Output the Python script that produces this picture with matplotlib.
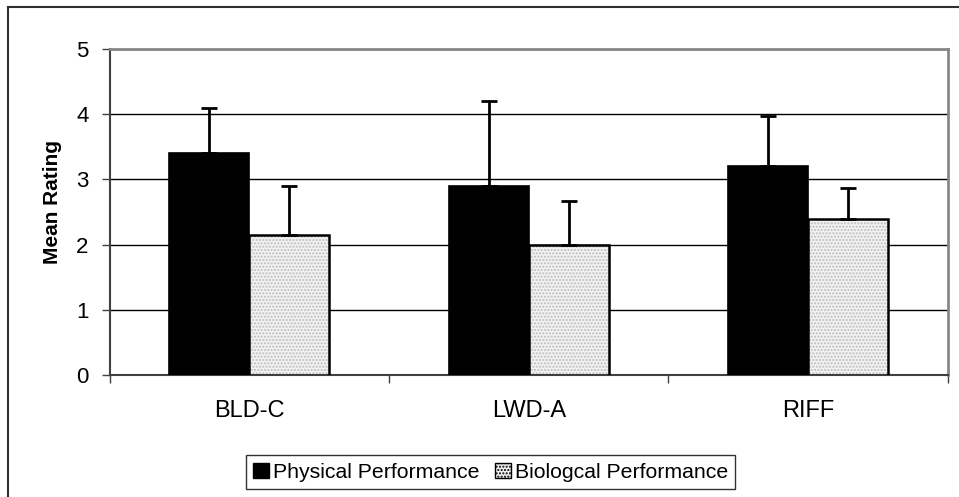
import matplotlib.pyplot as plt
from matplotlib.lines import Line2D
from matplotlib.patches import Patch
import numpy as np

plt.rcParams['font.family'] = ['Liberation Sans', 'DejaVu Sans']

sites = ['BLD-C', 'LWD-A', 'RIFF']
physical = [3.4, 2.9, 3.2]
physical_err = [0.7, 1.3, 0.78]
biological = [2.15, 2.0, 2.4]
biological_err = [0.75, 0.67, 0.47]
series_names = ['Physical Performance', 'Biologcal Performance']

fig = plt.figure(figsize=(9.59, 4.97), dpi=100)
ax = fig.add_axes([0.1142, 0.246, 0.8743, 0.6548])

x = np.arange(len(sites))
w = 0.2857

# physical bars
ax.bar(x - w/2, physical, w, color='black', edgecolor='black', linewidth=1.2, zorder=3)
ax.errorbar(x - w/2, physical, yerr=[np.zeros(3), physical_err], fmt='none',
            ecolor='black', elinewidth=2, capsize=5.5, capthick=2, zorder=4)

# biological bars: dotted fill then black outline
ax.bar(x + w/2, biological, w, color='#f2f2f2', edgecolor='#bcbcbc', hatch='.....',
       linewidth=0, zorder=3)
ax.bar(x + w/2, biological, w, fill=False, edgecolor='black', linewidth=1.8, zorder=3)
ax.errorbar(x + w/2, biological, yerr=[np.zeros(3), biological_err], fmt='none',
            ecolor='black', elinewidth=2, capsize=5.5, capthick=2, zorder=4)

ax.set_xlim(-0.5, 2.5)
ax.set_ylim(0, 5)
ax.set_yticks([0, 1, 2, 3, 4, 5])
ax.set_xticks(x)
ax.set_xticklabels(sites, fontsize=17)
ax.set_xticks([-0.5, 0.5, 1.5, 2.5], minor=True)
ax.tick_params(axis='x', which='major', length=0, pad=18)
ax.tick_params(axis='x', which='minor', length=6, width=1, color='#404040')
ax.tick_params(axis='y', length=6, width=1, color='#404040', labelsize=16, pad=9)
ax.yaxis.grid(True, color='black', linewidth=1)
ax.set_axisbelow(True)

ax.spines['left'].set_color('#404040')
ax.spines['left'].set_linewidth(1.5)
ax.spines['bottom'].set_color('#404040')
ax.spines['bottom'].set_linewidth(1.5)
ax.spines['top'].set_color('#888888')
ax.spines['top'].set_linewidth(2)
ax.spines['right'].set_color('#888888')
ax.spines['right'].set_linewidth(2)

ax.set_ylabel('Mean Rating', fontsize=15, fontweight='bold')
ax.yaxis.set_label_coords(-0.0567, 0.532)

# outer chart frame
fig.add_artist(Line2D([8/959, 8/959], [0, 1 - 7/497], color='#303030', linewidth=1.5))
fig.add_artist(Line2D([8/959, 1], [1 - 7/497, 1 - 7/497], color='#303030', linewidth=1.5))

handles = [Patch(facecolor='black', edgecolor='black'),
           Patch(facecolor='#f0f0f0', edgecolor='black', hatch='.....')]
leg = fig.legend(handles, series_names, loc='center', bbox_to_anchor=(0.5115, 0.05),
                 ncol=2, fontsize=15.3, frameon=True, fancybox=False,
                 handlelength=0.75, handleheight=0.75, handletextpad=0.2,
                 columnspacing=0.7, borderpad=0.35)
leg.get_frame().set_edgecolor('black')
leg.get_frame().set_linewidth(1)

fig.savefig('out.png', dpi=100)
